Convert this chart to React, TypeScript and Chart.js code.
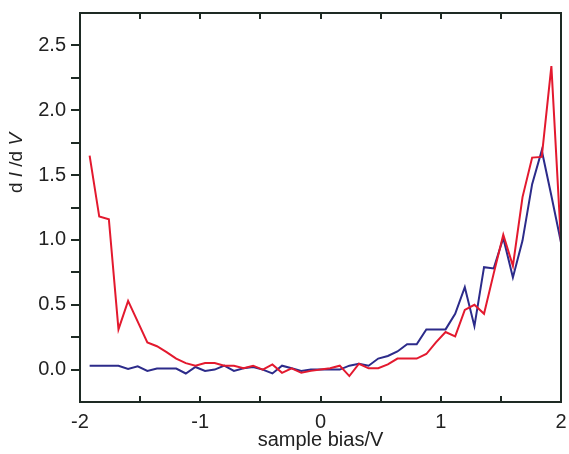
import React, { useEffect, useRef } from "react";
import { Chart, registerables } from "chart.js";

Chart.register(...registerables);

const bias = [
  -1.92, -1.84, -1.76, -1.68, -1.6, -1.52, -1.44, -1.36, -1.28, -1.2,
  -1.12, -1.04, -0.96, -0.88, -0.8, -0.72, -0.64, -0.56, -0.48, -0.4,
  -0.32, -0.24, -0.16, -0.08, 0.0, 0.08, 0.16, 0.24, 0.32, 0.4,
  0.48, 0.56, 0.64, 0.72, 0.8, 0.88, 0.96, 1.04, 1.12, 1.2,
  1.28, 1.36, 1.44, 1.52, 1.6, 1.68, 1.76, 1.84, 1.92, 2.0,
];

const redSeries = [
  1.65, 1.18, 1.16, 0.31, 0.53, 0.37, 0.21, 0.18, 0.135, 0.085,
  0.05, 0.03, 0.05, 0.05, 0.03, 0.03, 0.01, 0.03, 0.0, 0.04,
  -0.025, 0.01, -0.025, -0.01, 0.0, 0.01, 0.03, -0.05, 0.045, 0.01,
  0.01, 0.04, 0.085, 0.085, 0.085, 0.12, 0.21, 0.29, 0.256, 0.46,
  0.5, 0.43, 0.74, 1.04, 0.8, 1.33, 1.635, 1.64, 2.34, 0.98,
];

const blueSeries = [
  0.03, 0.03, 0.03, 0.03, 0.005, 0.025, -0.01, 0.008, 0.008, 0.008,
  -0.03, 0.02, -0.01, 0.0, 0.03, -0.01, 0.01, 0.02, 0.0, -0.03,
  0.03, 0.01, -0.01, 0.0, 0.0, 0.0, 0.0, 0.03, 0.045, 0.03,
  0.085, 0.105, 0.14, 0.195, 0.195, 0.31, 0.31, 0.31, 0.43, 0.635,
  0.335, 0.79, 0.78, 1.015, 0.71, 0.995, 1.43, 1.69, 1.34, 0.98,
];

const xTickValues = [-2, -1, 0, 1, 2];
const yTickValues = [0, 0.5, 1, 1.5, 2, 2.5];

const FRAME = "#1e2a24";
const TEXT = "#222222";
const FONT = "'Liberation Sans', Arial, Helvetica, sans-serif";

const framePlugin = {
  id: "framePlugin",
  afterDraw(chart: any) {
    const { ctx, chartArea, scales } = chart;
    const { left, right, top, bottom } = chartArea;
    const xs = scales.x;
    const ys = scales.y;
    ctx.save();
    ctx.strokeStyle = FRAME;
    ctx.lineWidth = 2;
    ctx.strokeRect(left, top, right - left, bottom - top);
    ctx.beginPath();
    for (let v = -1.5; v <= 1.51; v += 0.5) {
      const px = Math.round(xs.getPixelForValue(v));
      ctx.moveTo(px, bottom);
      ctx.lineTo(px, bottom - 6);
      ctx.moveTo(px, top);
      ctx.lineTo(px, top + 6);
    }
    for (let v = 0; v <= 2.51; v += 0.25) {
      const py = Math.round(ys.getPixelForValue(v));
      ctx.moveTo(left, py);
      ctx.lineTo(left - 9, py);
    }
    ctx.stroke();

    // y-axis title with italic variables
    const segs = [
      { t: "d ", it: false },
      { t: "I", it: true },
      { t: " /d ", it: false },
      { t: "V", it: true },
    ];
    const size = 19;
    let total = 0;
    const widths: number[] = [];
    for (const s of segs) {
      ctx.font = `${s.it ? "italic " : ""}${size}px ${FONT}`;
      const w = ctx.measureText(s.t).width;
      widths.push(w);
      total += w;
    }
    ctx.translate(17, 163);
    ctx.rotate(-Math.PI / 2);
    ctx.fillStyle = TEXT;
    ctx.textBaseline = "middle";
    ctx.textAlign = "left";
    let x = -total / 2;
    segs.forEach((s, i) => {
      ctx.font = `${s.it ? "italic " : ""}${size}px ${FONT}`;
      ctx.fillText(s.t, x, 0);
      x += widths[i];
    });
    ctx.restore();
  },
};

export default function App() {
  const canvasRef = useRef<HTMLCanvasElement | null>(null);

  useEffect(() => {
    document.body.style.margin = "0";
    const canvas = canvasRef.current;
    if (!canvas) return;
    const chart = new Chart(canvas, {
      type: "line",
      data: {
        datasets: [
          {
            label: "red",
            data: bias.map((b, i) => ({ x: b, y: redSeries[i] })),
            borderColor: "#e3192e",
            borderWidth: 2,
            pointRadius: 0,
            tension: 0,
            fill: false,
          },
          {
            label: "blue",
            data: bias.map((b, i) => ({ x: b, y: blueSeries[i] })),
            borderColor: "#2c2b8a",
            borderWidth: 2,
            pointRadius: 0,
            tension: 0,
            fill: false,
          },
        ],
      },
      options: {
        animation: false,
        responsive: false,
        maintainAspectRatio: false,
        layout: { padding: { top: 13, right: 8, left: 0, bottom: 0 } },
        plugins: {
          legend: { display: false },
          tooltip: { enabled: false },
          title: { display: false },
        },
        scales: {
          x: {
            type: "linear",
            min: -2,
            max: 2,
            afterFit: (scale: any) => {
              scale.height = 52;
              scale.paddingLeft = 0;
              scale.paddingRight = 0;
            },
            afterBuildTicks: (scale: any) => {
              scale.ticks = xTickValues.map((v) => ({ value: v }));
            },
            grid: { display: false },
            border: { display: false },
            ticks: {
              padding: 0,
              color: TEXT,
              font: { family: FONT, size: 20 },
              maxRotation: 0,
              callback: (v: any) => String(v),
            },
            title: {
              display: true,
              text: "sample bias/V",
              color: TEXT,
              font: { family: FONT, size: 20 },
              padding: { top: 0, bottom: 2 },
            },
          },
          y: {
            type: "linear",
            min: -0.25,
            max: 2.75,
            afterFit: (scale: any) => {
              scale.width = 80;
              scale.paddingTop = 0;
              scale.paddingBottom = 0;
            },
            afterBuildTicks: (scale: any) => {
              scale.ticks = yTickValues.map((v) => ({ value: v }));
            },
            grid: { display: false },
            border: { display: false },
            ticks: {
              padding: 6,
              color: TEXT,
              font: { family: FONT, size: 20 },
              callback: (v: any) => Number(v).toFixed(1),
            },
          },
        },
      },
      plugins: [framePlugin],
    });
    return () => chart.destroy();
  }, []);

  return (
    <div style={{ width: 569, height: 454 }}>
      <canvas ref={canvasRef} width={569} height={454} style={{ display: "block" }} />
    </div>
  );
}
